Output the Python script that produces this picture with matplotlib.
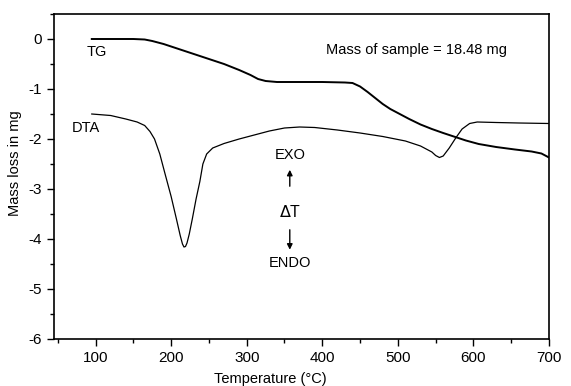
import numpy as np
import matplotlib
matplotlib.use('Agg')
import matplotlib.pyplot as plt
from matplotlib.ticker import MultipleLocator

plt.rcParams['font.family'] = ['Liberation Sans', 'DejaVu Sans']
plt.rcParams['axes.unicode_minus'] = False

# TG curve (mass loss, mg)
tg_temp = [95, 150, 165, 175, 190, 210, 240, 270, 290, 305, 315, 325, 340, 400, 430,
           440, 450, 460, 470, 480, 490, 500, 515, 530, 545, 560, 576, 590, 607,
           630, 655, 677, 690, 700]
tg_mass = [0.0, 0.0, -0.01, -0.04, -0.10, -0.20, -0.35, -0.50, -0.62, -0.72, -0.80,
           -0.84, -0.86, -0.86, -0.87, -0.88, -0.95, -1.06, -1.18, -1.30, -1.40,
           -1.48, -1.60, -1.71, -1.80, -1.88, -1.96, -2.03, -2.10, -2.16, -2.21,
           -2.25, -2.29, -2.37]

# DTA curve (plotted on the same scale)
dta_temp = [95, 120, 140, 155, 165, 172, 178, 185, 192, 200, 207, 212, 215, 217,
            219, 221, 224, 228, 233, 238, 242, 247, 255, 270, 290, 310, 330, 350,
            370, 390, 420, 450, 480, 510, 530, 545, 550, 555, 560, 568, 577, 585,
            595, 605, 630, 660, 700]
dta_val = [-1.50, -1.53, -1.60, -1.66, -1.73, -1.85, -2.00, -2.30, -2.70, -3.15,
           -3.60, -3.93, -4.10, -4.16, -4.15, -4.08, -3.90, -3.60, -3.20, -2.85,
           -2.50, -2.30, -2.18, -2.09, -2.00, -1.92, -1.84, -1.78, -1.76, -1.77,
           -1.82, -1.88, -1.95, -2.04, -2.14, -2.26, -2.33, -2.37, -2.34, -2.18,
           -1.97, -1.80, -1.69, -1.66, -1.67, -1.68, -1.69]

fig = plt.figure(figsize=(5.71, 3.86), dpi=100)
ax = fig.add_axes([54 / 571, 1 - 339 / 386, 495 / 571, 325 / 386])

ax.plot(tg_temp, tg_mass, color='black', lw=1.4)
ax.plot(dta_temp, dta_val, color='black', lw=0.9)

ax.set_xlim(45, 700)
ax.set_ylim(-6, 0.5)
ax.xaxis.set_major_locator(MultipleLocator(100))
ax.xaxis.set_minor_locator(MultipleLocator(50))
ax.yaxis.set_major_locator(MultipleLocator(1))
ax.yaxis.set_minor_locator(MultipleLocator(0.5))
ax.tick_params(which='major', direction='out', length=5, width=1, labelsize=11)
ax.tick_params(which='minor', direction='out', length=3, width=1)
for s in ax.spines.values():
    s.set_linewidth(1.2)

ax.set_xlabel('Temperature (°C)', fontsize=10.5)
ax.set_ylabel('Mass loss in mg', fontsize=10.5)
ax.xaxis.set_label_coords(0.436, -0.1)
ax.yaxis.set_label_coords(-0.064, 0.54)

# annotations
ax.text(88, -0.26, 'TG', fontsize=10.5, va='center')
ax.text(68, -1.78, 'DTA', fontsize=10.5, va='center')
ax.text(525, -0.22, 'Mass of sample = 18.48 mg', fontsize=10.5, ha='center', va='center')
ax.text(357, -2.32, 'EXO', fontsize=10.5, ha='center', va='center')
ax.text(357, -3.46, r'$\Delta$T', fontsize=11.5, ha='center', va='center')
ax.text(357, -4.48, 'ENDO', fontsize=10.5, ha='center', va='center')
ax.annotate('', xy=(357, -2.56), xytext=(357, -3.0),
            arrowprops=dict(arrowstyle='-|>', color='black', lw=1, mutation_scale=8))
ax.annotate('', xy=(357, -4.27), xytext=(357, -3.76),
            arrowprops=dict(arrowstyle='-|>', color='black', lw=1, mutation_scale=8))

fig.savefig('out.png', dpi=100)
